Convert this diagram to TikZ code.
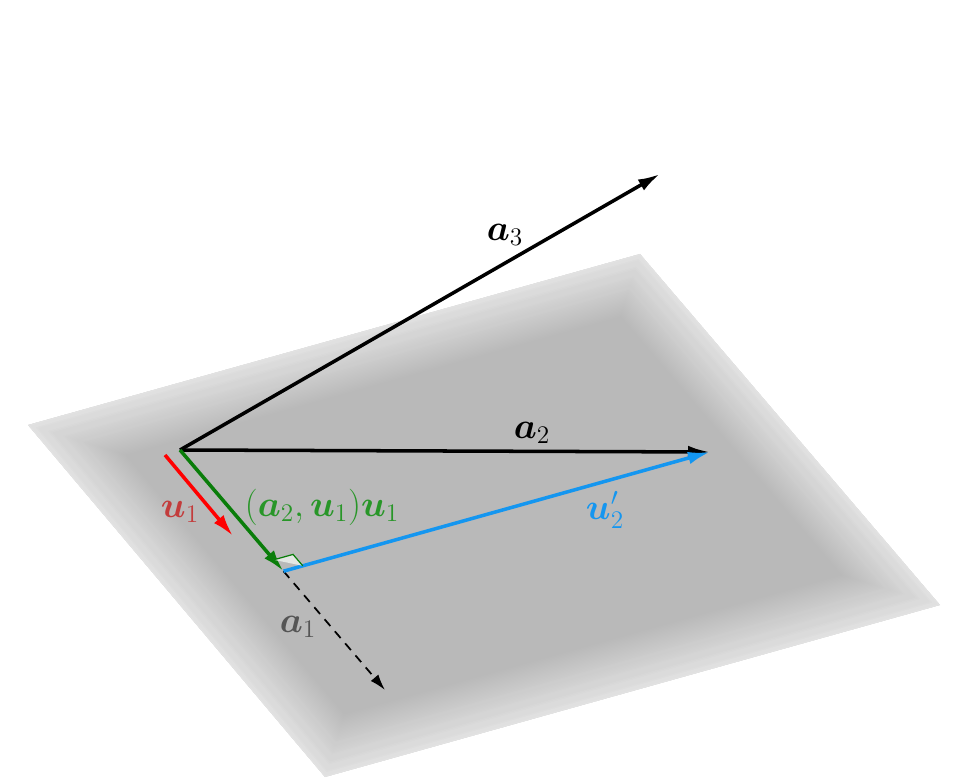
\documentclass[tikz,border=0pt]{standalone}
\usepackage{bm}
\usetikzlibrary{calc,arrows.meta}

\definecolor{vblue}{RGB}{20,150,240}
\definecolor{vgreen}{RGB}{10,125,10}
\definecolor{lgreen}{RGB}{40,150,40}
\definecolor{lred}{RGB}{195,60,60}
\definecolor{lgray}{RGB}{85,85,85}

\tikzset{
	vec/.style={line width=2pt, -{Latex[length=0.44cm,width=0.25cm]}},
	lbl/.style={font=\fontsize{20}{24}\selectfont, inner sep=1pt},
}

\begin{document}
\begin{tikzpicture}
		\useasboundingbox (0,0) rectangle (19.34,15.58);
		%%%%% PLANE %%%%%
		\coordinate (T) at (12.8, 10.5);
		\coordinate (L) at (0.56, 7.08);
		\coordinate (B) at (6.5, 0.04);
		\coordinate (R) at (18.8, 3.48);
		\fill[black!27.5] (T) -- (L) -- (B) -- (R) -- cycle;
		\begin{scope}
			\clip (T) -- (L) -- (B) -- (R) -- cycle;
			% soft edge: white strokes, fading inwards
			\foreach \k in {1,...,40}{
				\pgfmathsetmacro{\ta}{1-0.8*(1-(\k-1)/40)}
				\pgfmathsetmacro{\tb}{1-0.8*(1-\k/40)}
				\pgfmathsetmacro{\al}{1-\ta/\tb}
				\draw[white, opacity=\al, line width=\k*0.055cm, line join=round] (T) -- (L) -- (B) -- (R) -- cycle;
			}
		\end{scope}
		
		%%%%% VECTORS %%%%%
		\coordinate (O) at (3.6, 6.58);
		\coordinate (A3) at (13.2, 12.1);
		\coordinate (A2) at (14.2, 6.54);
		\coordinate (A1) at (7.7, 1.78);
		\coordinate (P) at ($(O)!0.505!(A1)$);
		\coordinate (U1s) at (3.3, 6.48);
		\coordinate (U1e) at (4.66, 4.86);
		
		\draw[line width=1pt, dash pattern=on 5pt off 4pt, -{Latex[length=0.32cm,width=0.2cm]}] (P) -- (A1);
		\draw[vec] (O) -- (A3);
		\draw[vec] (O) -- (A2);
		\draw[vec, vblue] (P) -- (A2);
		\draw[vec, red] (U1s) -- (U1e);
		\draw[vec, vgreen] (O) -- (P);
		
		% right angle
		\draw[vgreen, fill=green!6!gray!20, line width=0.7pt]
			($(P)!0.3cm!(O)$) -- ($($(P)!0.3cm!(O)$)+($(P)!0.4cm!(A2)$)-(P)$) -- ($(P)!0.4cm!(A2)$);
		
		%%%%% LABELS %%%%%
		\node[lbl] (la3) at (10.1, 10.88) {$\bm{a}_3$};
		\node[lbl] (la2) at (10.64, 6.92) {$\bm{a}_2$};
		\node[lbl, vblue] (lu2) at (12.1, 5.38) {$\bm{u}_2'$};
		\node[lbl, lgreen] (lpr) at (6.44, 5.44) {$(\bm{a}_2,\bm{u}_1)\bm{u}_1$};
		\node[lbl, lred] (lu1) at (3.6, 5.34) {$\bm{u}_1$};
		\node[lbl, lgray] (la1) at (5.96, 3.04) {$\bm{a}_1$};
	\end{tikzpicture}
\end{document}
